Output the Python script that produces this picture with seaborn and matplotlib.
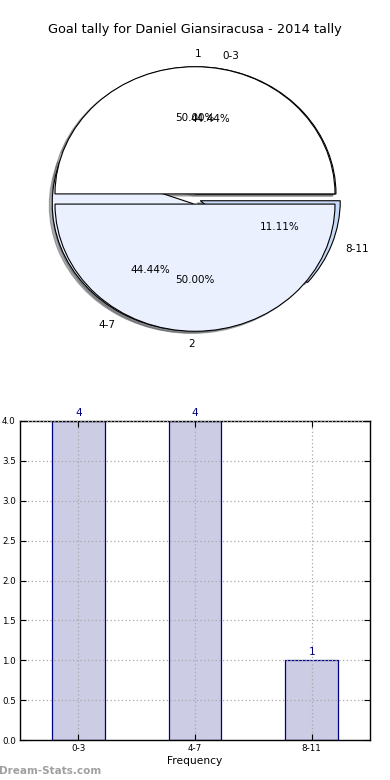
import matplotlib
matplotlib.use("Agg")
import matplotlib.pyplot as plt
import seaborn as sns
import pandas as pd

# ---- data ----
title = "Goal tally for Daniel Giansiracusa - 2014 tally"
range_labels = ["0-3", "4-7", "8-11"]
range_counts = [4, 4, 1]
goal_labels = ["1", "2"]
goal_counts = [1, 1]
y_ticks = [0.0, 0.5, 1.0, 1.5, 2.0, 2.5, 3.0, 3.5, 4.0]

sns.set_theme(style="white")
plt.rcParams["font.family"] = ["DejaVu Sans"]
plt.rcParams["text.color"] = "black"

fig = plt.figure(figsize=(3.9, 7.8), dpi=100)
left, width = 20 / 390, 350 / 390
ax1 = fig.add_axes([left, 1 - 358 / 780, width, 318 / 780])
ax2 = fig.add_axes([left, 1 - 740 / 780, width, 319 / 780])

# ---- pies ----
wp = dict(edgecolor="black", linewidth=0.8)
sh = dict(ox=-0.015, oy=-0.012, shade=0.6, alpha=0.5)
ax1.pie(range_counts, labels=range_labels, colors=["white", "#EAF0FE", "#C7DAF7"],
        explode=[0.04, 0.04, 0.04], autopct="%.2f%%", startangle=0, shadow=sh,
        wedgeprops=wp, textprops=dict(fontsize=7.5, color="black"))
_, t2, _ = ax1.pie(goal_counts, labels=goal_labels, colors=["white", "#EAF0FE"],
                   explode=[0.04, 0.04], autopct="%.2f%%", startangle=0, shadow=sh,
                   wedgeprops=wp, textprops=dict(fontsize=7.5, color="black"))
t2[0].set_ha("left")
t2[1].set_ha("right")
ax1.set_aspect("auto")
ax1.set_xlim(-1.25, 1.25)
ax1.set_ylim(-1.25, 1.25)
ax1.axis("off")
ax1.set_title(title, fontsize=9.3, pad=5, color="black")

# ---- bars ----
df = pd.DataFrame({"range": range_labels, "count": range_counts})
sns.barplot(data=df, x="range", y="count", ax=ax2, color="#CCCCE5",
            edgecolor="navy", linewidth=0.9, width=0.45, saturation=1)
for c in ax2.containers:
    ax2.bar_label(c, labels=[str(v) for v in range_counts], color="navy",
                  fontsize=7.5, padding=2)
ax2.set_xlim(-0.5, 2.5)
ax2.set_ylim(0, 4)
ax2.set_yticks(y_ticks)
ax2.set_yticklabels([f"{t:.1f}" for t in y_ticks])
ax2.set_xlabel("Frequency", fontsize=7.7, labelpad=2, color="black")
ax2.set_ylabel("")
ax2.tick_params(axis="both", which="both", direction="in", length=4, width=0.8,
                labelsize=6.3, top=True, right=True, bottom=True, left=True,
                pad=3, colors="black")
ax2.grid(True, linestyle=(0, (1, 2)), color="#a8a8a8", linewidth=0.9)
ax2.set_axisbelow(False)
for s in ax2.spines.values():
    s.set_visible(True)
    s.set_color("black")
    s.set_linewidth(1.0)

fig.text(-0.002, 1 - 771 / 780, "Dream-Stats.com", color="#a0a0a0",
         fontsize=7.5, fontweight="bold", va="center", ha="left")

fig.savefig("out.png", dpi=100)
